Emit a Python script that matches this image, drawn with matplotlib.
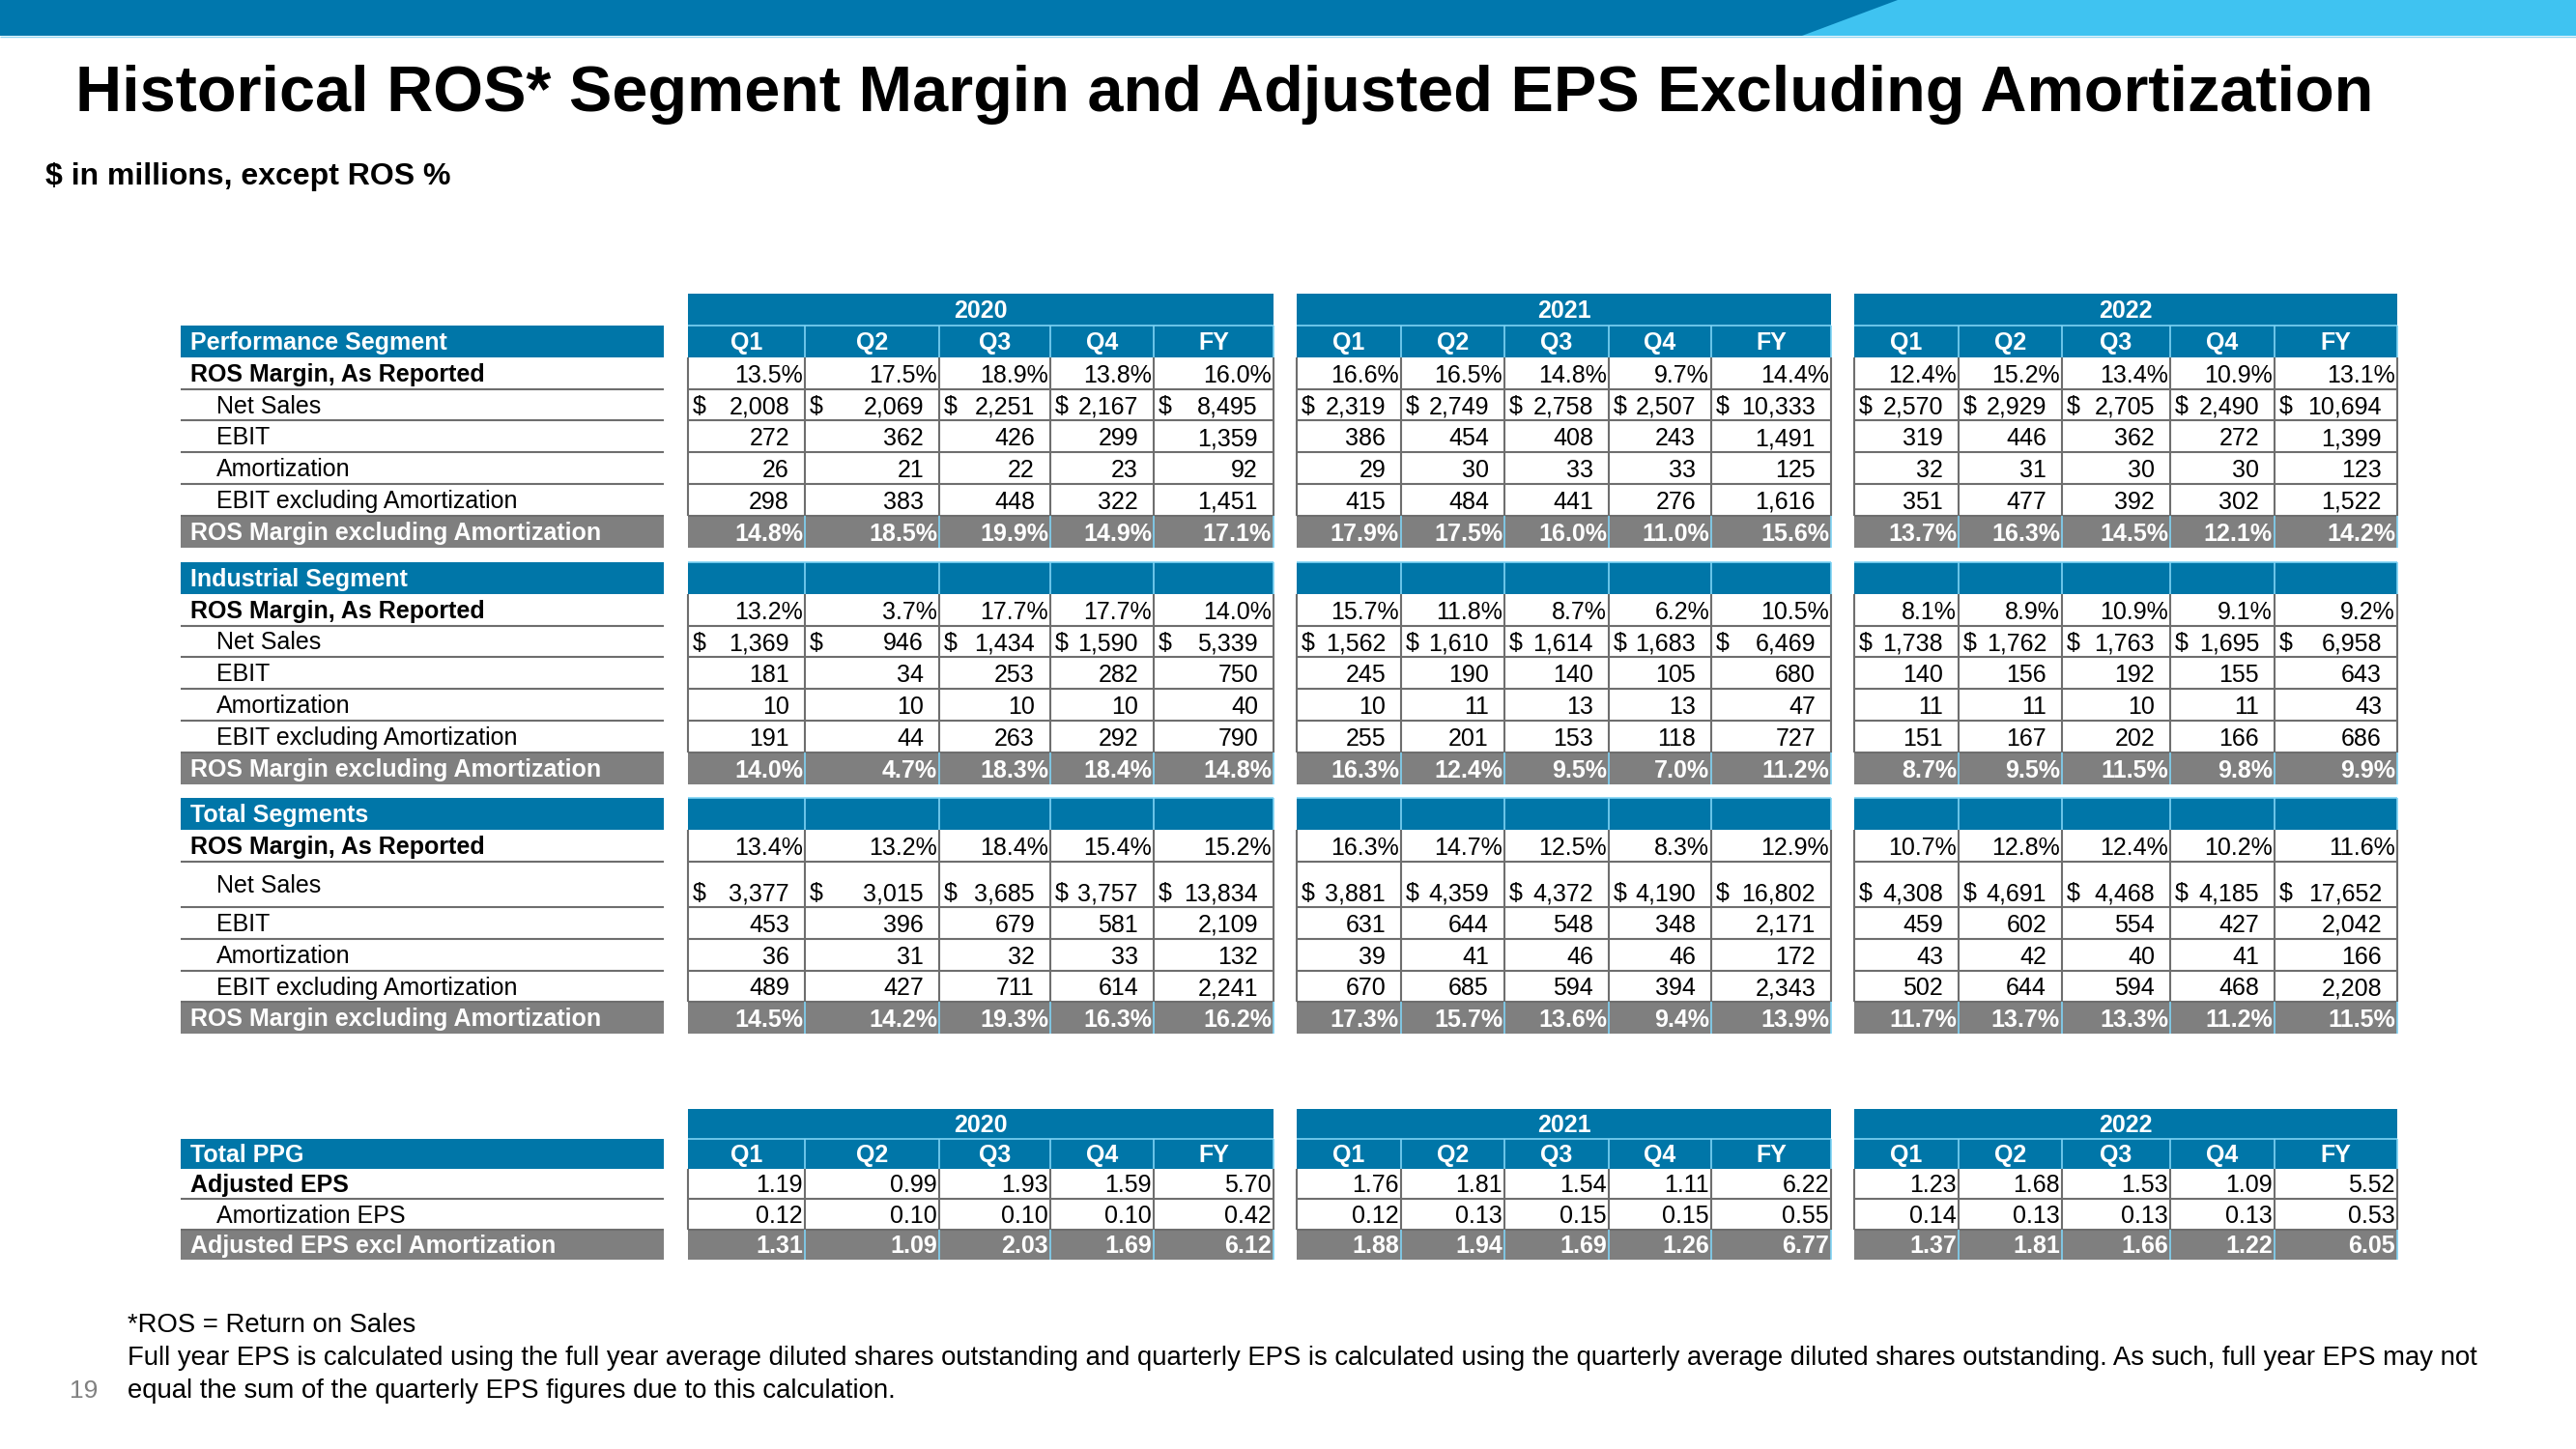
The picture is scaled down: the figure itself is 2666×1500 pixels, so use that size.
import numpy as np
import matplotlib.pyplot as plt
from matplotlib.patches import Rectangle, Polygon

plt.rcParams['font.family'] = ['Liberation Sans', 'DejaVu Sans']

#=====================================
# Data (15 values per row: 2020 Q1..FY, 2021 Q1..FY, 2022 Q1..FY)
#=====================================

years = ['2020', '2021', '2022']
periods = ['Q1', 'Q2', 'Q3', 'Q4', 'FY']
segment_names = ['Performance Segment', 'Industrial Segment', 'Total Segments']
row_labels = ['ROS Margin, As Reported', 'Net Sales', 'EBIT', 'Amortization',
              'EBIT excluding Amortization', 'ROS Margin excluding Amortization']
eps_title = 'Total PPG'
eps_labels = ['Adjusted EPS', 'Amortization EPS', 'Adjusted EPS excl Amortization']

perf_ros = [13.5, 17.5, 18.9, 13.8, 16.0, 16.6, 16.5, 14.8, 9.7, 14.4, 12.4, 15.2, 13.4, 10.9, 13.1]
perf_sales = [2008, 2069, 2251, 2167, 8495, 2319, 2749, 2758, 2507, 10333, 2570, 2929, 2705, 2490, 10694]
perf_ebit = [272, 362, 426, 299, 1359, 386, 454, 408, 243, 1491, 319, 446, 362, 272, 1399]
perf_amort = [26, 21, 22, 23, 92, 29, 30, 33, 33, 125, 32, 31, 30, 30, 123]
perf_ebit_x = [298, 383, 448, 322, 1451, 415, 484, 441, 276, 1616, 351, 477, 392, 302, 1522]
perf_ros_x = [14.8, 18.5, 19.9, 14.9, 17.1, 17.9, 17.5, 16.0, 11.0, 15.6, 13.7, 16.3, 14.5, 12.1, 14.2]

ind_ros = [13.2, 3.7, 17.7, 17.7, 14.0, 15.7, 11.8, 8.7, 6.2, 10.5, 8.1, 8.9, 10.9, 9.1, 9.2]
ind_sales = [1369, 946, 1434, 1590, 5339, 1562, 1610, 1614, 1683, 6469, 1738, 1762, 1763, 1695, 6958]
ind_ebit = [181, 34, 253, 282, 750, 245, 190, 140, 105, 680, 140, 156, 192, 155, 643]
ind_amort = [10, 10, 10, 10, 40, 10, 11, 13, 13, 47, 11, 11, 10, 11, 43]
ind_ebit_x = [191, 44, 263, 292, 790, 255, 201, 153, 118, 727, 151, 167, 202, 166, 686]
ind_ros_x = [14.0, 4.7, 18.3, 18.4, 14.8, 16.3, 12.4, 9.5, 7.0, 11.2, 8.7, 9.5, 11.5, 9.8, 9.9]

tot_ros = [13.4, 13.2, 18.4, 15.4, 15.2, 16.3, 14.7, 12.5, 8.3, 12.9, 10.7, 12.8, 12.4, 10.2, 11.6]
tot_sales = [3377, 3015, 3685, 3757, 13834, 3881, 4359, 4372, 4190, 16802, 4308, 4691, 4468, 4185, 17652]
tot_ebit = [453, 396, 679, 581, 2109, 631, 644, 548, 348, 2171, 459, 602, 554, 427, 2042]
tot_amort = [36, 31, 32, 33, 132, 39, 41, 46, 46, 172, 43, 42, 40, 41, 166]
tot_ebit_x = [489, 427, 711, 614, 2241, 670, 685, 594, 394, 2343, 502, 644, 594, 468, 2208]
tot_ros_x = [14.5, 14.2, 19.3, 16.3, 16.2, 17.3, 15.7, 13.6, 9.4, 13.9, 11.7, 13.7, 13.3, 11.2, 11.5]

adj_eps = [1.19, 0.99, 1.93, 1.59, 5.70, 1.76, 1.81, 1.54, 1.11, 6.22, 1.23, 1.68, 1.53, 1.09, 5.52]
amort_eps = [0.12, 0.10, 0.10, 0.10, 0.42, 0.12, 0.13, 0.15, 0.15, 0.55, 0.14, 0.13, 0.13, 0.13, 0.53]
adj_eps_x = [1.31, 1.09, 2.03, 1.69, 6.12, 1.88, 1.94, 1.69, 1.26, 6.77, 1.37, 1.81, 1.66, 1.22, 6.05]

segments = [
    [perf_ros, perf_sales, perf_ebit, perf_amort, perf_ebit_x, perf_ros_x],
    [ind_ros, ind_sales, ind_ebit, ind_amort, ind_ebit_x, ind_ros_x],
    [tot_ros, tot_sales, tot_ebit, tot_amort, tot_ebit_x, tot_ros_x],
]
row_kinds = ['pct', 'money', 'num', 'num', 'num', 'pct']

#=====================================
# Layout / style
#=====================================

BLUE = '#0076A8'
SEP = '#7FD3F4'
GRAY = '#7F7F7F'
GRID = '#6E6E6E'
FS = 18

LAB_X0, LAB_X1 = 187, 687
col_edges = [
    [712, 833, 972, 1087, 1194, 1318],
    [1342, 1450, 1557, 1665, 1771, 1895],
    [1919, 2027, 2134, 2246, 2354, 2481],
]
H = 32.8
seg_tops = [337, 582, 826]
tall_row = (2, 1)  # Total Segments / Net Sales is taller
TALL_H = 47.5

fig = plt.figure(figsize=(26.66, 15), dpi=100)
ax = fig.add_axes([0, 0, 1, 1])
ax.set_xlim(0, 2666)
ax.set_ylim(1500, 0)
ax.axis('off')


def rect(x0, x1, y0, y1, color, z=1):
    ax.add_patch(Rectangle((x0, y0), x1 - x0, y1 - y0, facecolor=color,
                           edgecolor='none', zorder=z))


def hline(x0, x1, y, color=GRID, lw=1.5, z=3):
    ax.plot([x0, x1], [y, y], color=color, lw=lw, solid_capstyle='butt', zorder=z)


def vline(x, y0, y1, color=GRID, lw=1.5, z=3):
    ax.plot([x, x], [y0, y1], color=color, lw=lw, solid_capstyle='butt', zorder=z)


def fmt(v, kind):
    if kind == 'pct':
        return f'{v:.1f}%'
    if kind == 'eps':
        return f'{v:.2f}'
    return f'{v:,}'


def blue_row(y0, y1, label, heads=None):
    rect(LAB_X0, LAB_X1, y0, y1, BLUE)
    if label:
        ax.text(LAB_X0 + 10, (y0 + y1) / 2 + 8.5, label, color='white',
                fontsize=FS, fontweight='bold', va='baseline', ha='left', zorder=5)
    for edges in col_edges:
        rect(edges[0], edges[-1], y0, y1, BLUE)
        hline(edges[0], edges[-1], y0, color=SEP, lw=1.2, z=4)
        for x in edges[1:]:
            vline(x, y0, y1, color=SEP, lw=1.2, z=4)
        if heads:
            for i, h in enumerate(heads):
                ax.text((edges[i] + edges[i + 1]) / 2, (y0 + y1) / 2 + 8.5, h,
                        color='white', fontsize=FS, fontweight='bold',
                        ha='center', va='baseline', zorder=5)


def value_row(y0, y1, label, values, kind, style):
    # style: 'bold', 'indent', 'total'
    grey = style == 'total'
    if grey:
        rect(LAB_X0, LAB_X1, y0, y1, GRAY)
    x_lab = LAB_X0 + 24 + 13 if style == 'indent' else LAB_X0 + 10
    ax.text(x_lab, (y0 + y1) / 2 + 8.5, label,
            color='white' if grey else 'black', fontsize=FS,
            fontweight='normal' if style == 'indent' else 'bold',
            ha='left', va='baseline', zorder=5)
    if not grey:
        hline(LAB_X0, LAB_X1, y1)
    base = y1 - 7
    for b, edges in enumerate(col_edges):
        if grey:
            rect(edges[0], edges[-1], y0, y1, GRAY)
            for x in edges[1:]:
                vline(x, y0, y1, color=SEP, lw=1.2, z=4)
        else:
            hline(edges[0], edges[-1], y1)
            for x in edges:
                vline(x, y0, y1)
        for i in range(5):
            v = values[b * 5 + i]
            xl, xr = edges[i], edges[i + 1]
            txt = fmt(v, kind)
            color = 'white' if grey else 'black'
            weight = 'bold' if grey else 'normal'
            if kind in ('pct', 'eps'):
                ax.text(xr - 2, base, txt, color=color, fontsize=FS,
                        fontweight=weight, ha='right', va='baseline', zorder=5)
            else:
                ax.text(xr - 16, base, txt, color=color, fontsize=FS,
                        fontweight=weight, ha='right', va='baseline', zorder=5)
                if kind == 'money':
                    ax.text(xl + 5, base, '$', color=color, fontsize=FS,
                            ha='left', va='baseline', zorder=5)


#=====================================
# Banner, title
#=====================================

rect(0, 2666, 0, 37, '#3FC3F1', z=1)
ax.add_patch(Polygon([[0, 0], [1964, 0], [1865, 37], [0, 37]], closed=True,
                     facecolor='#0077AD', edgecolor='none', zorder=2))
hline(0, 2666, 37.5, color='#8FD6F2', lw=1.0, z=2)

ax.text(78, 115, 'Historical ROS* Segment Margin and Adjusted EPS Excluding Amortization',
        fontsize=48, fontweight='bold', ha='left', va='baseline', color='black')
ax.text(47, 191, '$ in millions, except ROS %', fontsize=23, fontweight='bold',
        ha='left', va='baseline', color='black')

#=====================================
# Segment table
#=====================================

# year header
for y_i, edges in enumerate(col_edges):
    rect(edges[0], edges[-1], 304, 337, BLUE)
    ax.text((edges[0] + edges[-1]) / 2, 304 + 16.5 + 8.5, years[y_i], color='white',
            fontsize=FS, fontweight='bold', ha='center', va='baseline', zorder=5)

for s, name in enumerate(segment_names):
    y = seg_tops[s]
    blue_row(y, y + H, name, periods if s == 0 else None)
    y += H
    for r, label in enumerate(row_labels):
        h = TALL_H if (s, r) == tall_row else H
        style = 'bold' if r == 0 else ('total' if r == 5 else 'indent')
        value_row(y, y + h, label, segments[s][r], row_kinds[r], style)
        y += h

#=====================================
# EPS table
#=====================================

H2 = 31.3
ey = 1147.5
for y_i, edges in enumerate(col_edges):
    rect(edges[0], edges[-1], ey, ey + H2, BLUE)
    ax.text((edges[0] + edges[-1]) / 2, ey + H2 / 2 + 8.5, years[y_i], color='white',
            fontsize=FS, fontweight='bold', ha='center', va='baseline', zorder=5)
ey += H2
blue_row(ey, ey + H2, eps_title, periods)
ey += H2
for r, (label, vals) in enumerate(zip(eps_labels, [adj_eps, amort_eps, adj_eps_x])):
    style = 'bold' if r == 0 else ('total' if r == 2 else 'indent')
    value_row(ey, ey + H2, label, vals, 'eps', style)
    ey += H2

#=====================================
# Footnotes
#=====================================

notes = ['*ROS = Return on Sales',
         'Full year EPS is calculated using the full year average diluted shares outstanding and quarterly EPS is calculated using the quarterly average diluted shares outstanding. As such, full year EPS may not',
         'equal the sum of the quarterly EPS figures due to this calculation.']
for i, line in enumerate(notes):
    ax.text(132, 1379 + i * 34, line, fontsize=19.8, ha='left', va='baseline', color='black')
ax.text(72, 1447, '19', fontsize=19, ha='left', va='baseline', color='#808080')

plt.savefig('out.png', dpi=100)
